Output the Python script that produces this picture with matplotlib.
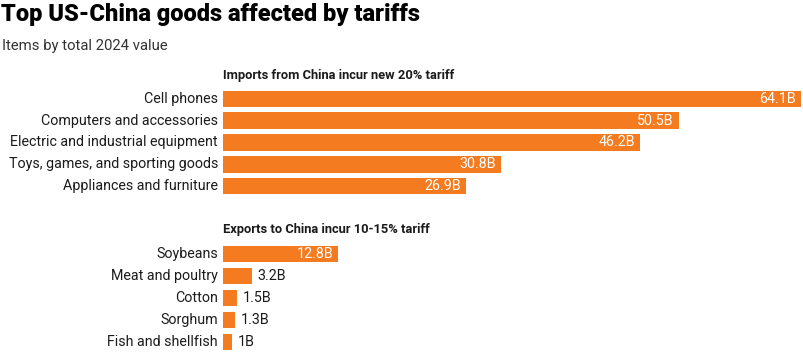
import matplotlib.pyplot as plt

# data
import_items = ["Cell phones", "Computers and accessories", "Electric and industrial equipment",
                "Toys, games, and sporting goods", "Appliances and furniture"]
import_values = [64.1, 50.5, 46.2, 30.8, 26.9]
import_labels = ["64.1B", "50.5B", "46.2B", "30.8B", "26.9B"]

export_items = ["Soybeans", "Meat and poultry", "Cotton", "Sorghum", "Fish and shellfish"]
export_values = [12.8, 3.2, 1.5, 1.3, 1.0]
export_labels = ["12.8B", "3.2B", "1.5B", "1.3B", "1B"]

ORANGE = "#F47B20"
DARK = "#1b1b1b"
W, H = 804, 354
BSIZE = 10.3
plt.rcParams["font.family"] = ["Roboto", "DejaVu Sans"]

fig = plt.figure(figsize=(W / 100, H / 100), dpi=100)
fig.patch.set_facecolor("white")

fig.text(1 / W, 1 - 15 / H, "Top US-China goods affected by tariffs", fontsize=17,
         fontweight="black", color="black", va="center", ha="left")
fig.text(2 / W, 1 - 46 / H, "Items by total 2024 value", fontsize=10.7,
         color="#333333", va="center", ha="left")

x0 = 223
xmax = (W - x0) / 9.02


def panel(top, bottom, header, header_y, items, values, labels):
    ax = fig.add_axes([x0 / W, 1 - bottom / H, (W - x0) / W, (bottom - top) / H])
    pos = list(range(len(items)))
    ax.barh(pos, values, height=0.77, color=ORANGE)
    ax.set_xlim(0, xmax)
    ax.set_ylim(len(items) - 0.5, -0.5)
    ax.axis("off")
    for p, name, v, lab in zip(pos, items, values, labels):
        ax.annotate(name, (0, p), xytext=(-5, 0), textcoords="offset pixels",
                    ha="right", va="center", fontsize=BSIZE, color=DARK)
        if v > 8:
            ax.annotate(lab, (v, p), xytext=(-5, 0), textcoords="offset pixels",
                        ha="right", va="center", fontsize=BSIZE, color="white")
        else:
            ax.annotate(lab, (v, p), xytext=(6, 0), textcoords="offset pixels",
                        ha="left", va="center", fontsize=BSIZE, color=DARK)
    fig.text(x0 / W, 1 - header_y / H, header, fontsize=9.3, fontweight="bold",
             color=DARK, ha="left", va="center")
    return ax


panel(88, 197, "Imports from China incur new 20% tariff", 75,
      import_items, import_values, import_labels)
panel(243, 353, "Exports to China incur 10-15% tariff", 230,
      export_items, export_values, export_labels)

fig.savefig("out.png", dpi=100, facecolor="white")
